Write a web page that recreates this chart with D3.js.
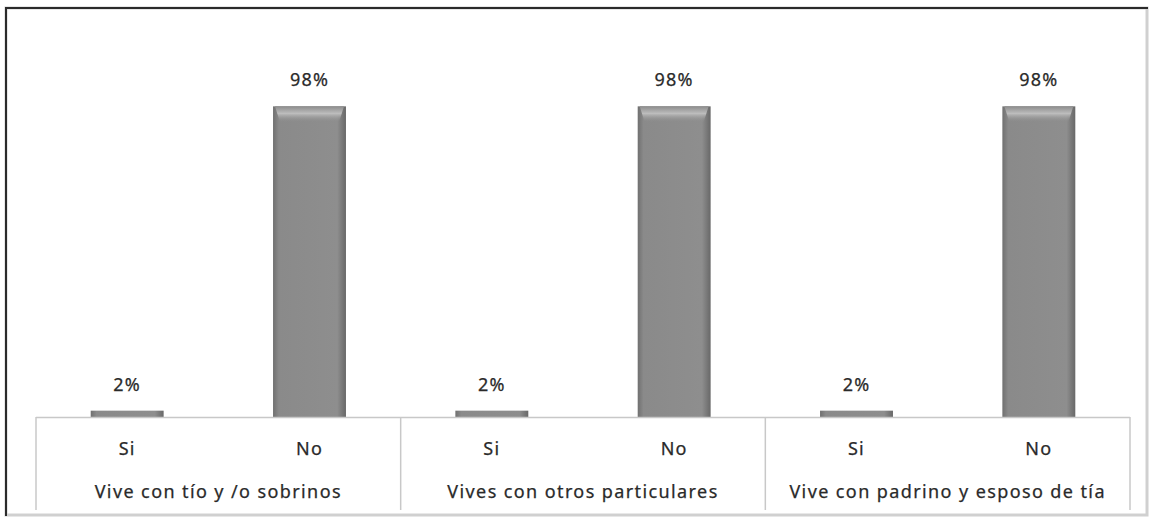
<!DOCTYPE html>
<html lang="es">
<head>
    <meta charset="UTF-8">
    <script src="https://cdn.jsdelivr.net/npm/d3@7"></script>
    <title>Vive con</title>
    <style>
        body { margin: 0; background: #fff; }
        text { font-family: "Noto Sans", "Open Sans", sans-serif; fill: #2a2a2a; stroke: #2a2a2a; stroke-width: 0.25; }
    </style>
</head>
<body>
</body>
<script>

    let groups = ["Vive con tío y /o sobrinos", "Vives con otros particulares", "Vive con padrino y esposo de tía"],
        answers = ["Si", "No"],
        siValues = [2, 2, 2],
        noValues = [98, 98, 98];

    let width = 1153,
        height = 520,
        left = 36,
        right = 1130,
        baseY = 417,
        axisBottom = 510;

    let data = [];
    groups.forEach(function (g, i) {
        data.push({ group: g, answer: "Si", value: siValues[i] });
        data.push({ group: g, answer: "No", value: noValues[i] });
    });

    let x0 = d3.scaleBand()
        .domain(groups)
        .range([left, right]);

    let x1 = d3.scaleBand()
        .domain(answers)
        .range([0, x0.bandwidth()])
        .paddingInner(0.6)
        .paddingOuter(0.3);

    let y = d3.scaleLinear()
        .domain([0, 100])
        .range([baseY, 100]);

    let svg = d3.select("body")
        .append("svg")
        .attr("width", width)
        .attr("height", height);

    // bevel gradients
    let defs = svg.append("defs");
    let sideGrad = defs.append("linearGradient").attr("id", "side")
        .attr("x1", 0).attr("x2", 1).attr("y1", 0).attr("y2", 0);
    sideGrad.append("stop").attr("offset", "0%").attr("stop-color", "#707070");
    sideGrad.append("stop").attr("offset", "8%").attr("stop-color", "#8a8a8a");
    sideGrad.append("stop").attr("offset", "88%").attr("stop-color", "#8e8e8e");
    sideGrad.append("stop").attr("offset", "100%").attr("stop-color", "#686868");

    let topGrad = defs.append("linearGradient").attr("id", "topg")
        .attr("x1", 0).attr("x2", 0).attr("y1", 0).attr("y2", 1);
    topGrad.append("stop").attr("offset", "0%").attr("stop-color", "#8c8c8c");
    topGrad.append("stop").attr("offset", "45%").attr("stop-color", "#bdbdbd");
    topGrad.append("stop").attr("offset", "100%").attr("stop-color", "#8c8c8c").attr("stop-opacity", 0);

    // frame
    svg.append("rect")
        .attr("x", 6).attr("y", 8)
        .attr("width", 1141).attr("height", 507)
        .attr("fill", "none")
        .attr("stroke", "#d0d0d0")
        .attr("stroke-width", 3);
    svg.append("path")
        .attr("d", "M6,516 V8 H1148")
        .attr("fill", "none")
        .attr("stroke", "#2b2b2b")
        .attr("stroke-width", 2);

    // bars
    let bar = svg.selectAll("g.bar")
        .data(data)
        .enter()
        .append("g")
        .attr("class", "bar")
        .attr("transform", d => "translate(" + (x0(d.group) + x1(d.answer)) + ",0)");

    bar.append("rect")
        .attr("y", d => y(d.value))
        .attr("width", x1.bandwidth())
        .attr("height", d => baseY - y(d.value))
        .attr("fill", "url(#side)");

    bar.filter(d => d.value > 10)
        .append("path")
        .attr("d", function (d) {
            let w = x1.bandwidth(), t = y(d.value);
            return "M2," + t + " H" + (w - 2) + " L" + (w - 7) + "," + (t + 16) + " H7 Z";
        })
        .attr("fill", "url(#topg)");

    bar.append("text")
        .attr("x", x1.bandwidth() / 2)
        .attr("y", d => y(d.value) - 20)
        .attr("text-anchor", "middle")
        .attr("font-size", 18)
        .attr("letter-spacing", 1.2)
        .text(d => d.value + "%");

    // axis
    svg.append("line")
        .attr("x1", left).attr("x2", right)
        .attr("y1", baseY + 0.5).attr("y2", baseY + 0.5)
        .attr("stroke", "#c8c8c8")
        .attr("stroke-width", 1.5);

    let seps = [left].concat(groups.map(g => x0(g) + x0.bandwidth()));
    svg.selectAll("line.sep")
        .data(seps)
        .enter()
        .append("line")
        .attr("class", "sep")
        .attr("x1", d => d).attr("x2", d => d)
        .attr("y1", baseY).attr("y2", axisBottom)
        .attr("stroke", "#c8c8c8")
        .attr("stroke-width", 1.5);

    svg.selectAll("text.ans")
        .data(data)
        .enter()
        .append("text")
        .attr("class", "ans")
        .attr("x", d => x0(d.group) + x1(d.answer) + x1.bandwidth() / 2)
        .attr("y", 455)
        .attr("text-anchor", "middle")
        .attr("font-size", 18)
        .attr("letter-spacing", 1.2)
        .text(d => d.answer);

    svg.selectAll("text.grp")
        .data(groups)
        .enter()
        .append("text")
        .attr("class", "grp")
        .attr("x", d => x0(d) + x0.bandwidth() / 2)
        .attr("y", 498)
        .attr("text-anchor", "middle")
        .attr("font-size", 18)
        .attr("letter-spacing", 1.4)
        .text(d => d);

</script>
</html>
